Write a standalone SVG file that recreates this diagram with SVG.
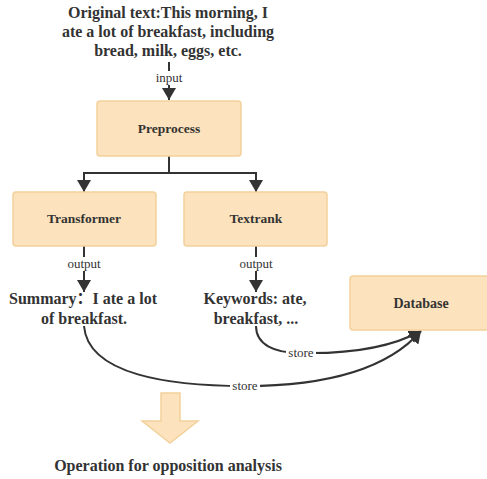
<svg xmlns="http://www.w3.org/2000/svg" width="487" height="479" viewBox="0 0 487 479">
<defs>
<marker id="ah" markerUnits="userSpaceOnUse" markerWidth="12" markerHeight="14" viewBox="0 0 12 14" refX="12" refY="7" orient="auto">
<path d="M0,0 L12,7 L0,14 Z" fill="#333"/>
</marker>
<style>
.box{fill:#fde3bd;stroke:#f3d19c;stroke-width:1.5}
.t{font-family:"Liberation Serif","Noto Sans CJK SC",serif;font-weight:bold;fill:#333;text-anchor:middle}
.lbl{font-family:"Liberation Serif",serif;font-size:13px;fill:#333;text-anchor:middle}
.ln{fill:none;stroke:#333;stroke-width:2}
.bg{fill:#fff}
</style>
</defs>
<rect width="487" height="479" fill="#fff"/>
<g id="title">
<text class="t" font-size="16" x="168" y="18">Original text:This morning, I</text>
<text class="t" font-size="16" x="168" y="37">ate a lot of breakfast, including</text>
<text class="t" font-size="16" x="168" y="56">bread, milk, eggs, etc.</text>
</g>
<g id="connectors">
<path class="ln" d="M169,62 V100" marker-end="url(#ah)"/>
<path class="ln" d="M169,156 V173 M84,173 H256"/>
<path class="ln" d="M84,172 V192" marker-end="url(#ah)"/>
<path class="ln" d="M256,172 V192" marker-end="url(#ah)"/>
<path class="ln" d="M84,246 V292" marker-end="url(#ah)"/>
<path class="ln" d="M256,246 V292" marker-end="url(#ah)"/>
<path class="ln" d="M256,326 C256,345 275,353 300,353 C345,354 390,348 421,331" marker-end="url(#ah)"/>
<path class="ln" d="M84,326 C88,375 170,386 245,386 C320,386 385,372 421,331" marker-end="url(#ah)"/>
<rect class="bg" x="154" y="71" width="30" height="14"/>
<text class="lbl" x="169" y="82">input</text>
<rect class="bg" x="65" y="257" width="38" height="14"/>
<text class="lbl" x="84" y="268">output</text>
<rect class="bg" x="237" y="257" width="38" height="14"/>
<text class="lbl" x="256" y="268">output</text>
<rect class="bg" x="286" y="347" width="30" height="13"/>
<text class="lbl" x="301" y="357">store</text>
<rect class="bg" x="230" y="380" width="30" height="13"/>
<text class="lbl" x="245" y="390">store</text>
</g>
<g id="preprocess">
<rect class="box" x="97" y="101" width="144" height="55" rx="3"/>
<text class="t" font-size="13.5" x="169" y="133">Preprocess</text>
</g>
<g id="transformer">
<rect class="box" x="13" y="192" width="143" height="54" rx="3"/>
<text class="t" font-size="13.5" x="84" y="223">Transformer</text>
</g>
<g id="textrank">
<rect class="box" x="184" y="192" width="143" height="54" rx="3"/>
<text class="t" font-size="13.5" x="256" y="223">Textrank</text>
</g>
<g id="summary">
<text class="t" font-size="16" x="83" y="304">Summary：I ate a lot</text>
<text class="t" font-size="16" x="84" y="324">of breakfast.</text>
</g>
<g id="keywords">
<text class="t" font-size="16" x="255" y="304">Keywords: ate,</text>
<text class="t" font-size="16" x="256" y="324">breakfast, ...</text>
</g>
<g id="database">
<rect class="box" x="350" y="276" width="145" height="54" rx="3"/>
<text class="t" font-size="14" x="421" y="308">Database</text>
</g>
<g id="bigarrow">
<path d="M161,393 H180 V421 H198 L170,443 L142,421 H161 Z" fill="#fde3bd" stroke="#f3d19c" stroke-width="1.5"/>
</g>
<g id="operation">
<text class="t" font-size="16" x="168" y="471">Operation for opposition analysis</text>
</g>
</svg>
